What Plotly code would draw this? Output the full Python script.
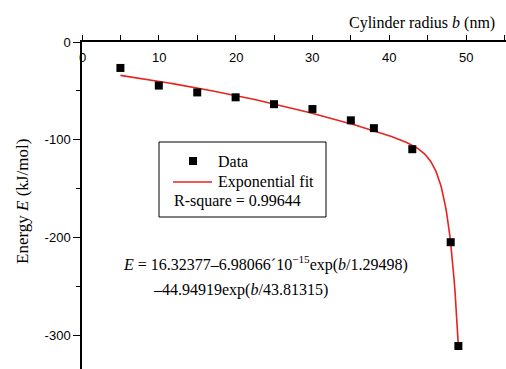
import numpy as np
import plotly.graph_objects as go

# ---- data ----
radius_b = [5, 10, 15, 20, 25, 30, 35, 38, 43, 48, 49]
energy_E = [-26.5, -44.5, -51.5, -56.5, -63.5, -68.5, -80.0, -88.0, -109.5, -204.5, -310.5]

# exponential fit parameters printed on the chart
fit_y0 = 16.32377
fit_A1 = 6.98066e-15
fit_t1 = 1.29498
fit_A2 = 44.94919
fit_t2 = 43.81315
fit_b = np.linspace(5, 49, 400)
fit_E = fit_y0 - fit_A1 * np.exp(fit_b / fit_t1) - fit_A2 * np.exp(fit_b / fit_t2)

x_ticks = [0, 10, 20, 30, 40, 50]
x_ticktext = ["0", "10", "20", "30", "40", "50"]
y_ticks = [0, -100, -200, -300]
y_ticktext = ["0", "-100", "-200", "-300"]

W, H = 506, 369
L, T = 82, 42
PW, PH = W - L, H - T

def px(x):
    return (x - L) / PW

def py(y):
    return (H - y) / PH

SERIF = "Liberation Serif, Times New Roman, serif"
SANS = "Liberation Sans, Arial, sans-serif"
RED = "#e8231f"

fig = go.Figure()
fig.add_trace(go.Scatter(x=fit_b, y=fit_E, mode="lines",
                         line=dict(color=RED, width=1.6), showlegend=False, hoverinfo="skip"))
fig.add_trace(go.Scatter(x=radius_b, y=energy_E, mode="markers",
                         marker=dict(symbol="square", size=8, color="black"), showlegend=False))

fig.update_layout(
    width=W, height=H,
    margin=dict(l=L, r=0, t=T, b=0, pad=0),
    paper_bgcolor="white", plot_bgcolor="white",
    showlegend=False,
    xaxis=dict(
        side="top", range=[0, 55.2], tickvals=x_ticks, showticklabels=False,
        ticks="outside", ticklen=5, tickwidth=1, tickcolor="black",
        showline=True, linecolor="black", linewidth=1.5,
        showgrid=False, zeroline=False,
        minor=dict(dtick=5, tick0=0, ticks="outside", ticklen=5, tickcolor="black", showgrid=False),
    ),
    yaxis=dict(
        range=[-334, 0], tickvals=y_ticks, ticktext=y_ticktext,
        ticks="outside", ticklen=7, tickwidth=1, tickcolor="black",
        showline=True, linecolor="black", linewidth=1.5,
        showgrid=False, zeroline=False,
        tickfont=dict(family=SANS, size=13, color="black"),
        minor=dict(dtick=50, tick0=0, ticks="outside", ticklen=4, tickcolor="black", showgrid=False),
    ),
)

# x tick labels drawn just below the top axis line (inside the plot), as in the reference
for xv, xt in zip(x_ticks, x_ticktext):
    fig.add_annotation(text=xt, xref="x", yref="paper", x=xv, y=py(58),
                       xanchor="center", yanchor="middle", showarrow=False,
                       font=dict(family=SANS, size=13, color="black"))

shapes = [
    dict(type="rect", xref="paper", yref="paper", x0=px(159), x1=px(326), y0=py(217), y1=py(142),
         line=dict(color="black", width=1), fillcolor="rgba(0,0,0,0)"),
    dict(type="rect", xref="paper", yref="paper", x0=px(189), x1=px(197), y0=py(165), y1=py(157),
         line=dict(color="black", width=0), fillcolor="black"),
    dict(type="line", xref="paper", yref="paper", x0=px(173), x1=px(212), y0=py(182), y1=py(182),
         line=dict(color=RED, width=1.6)),
]
fig.update_layout(shapes=shapes)

def ann(text, x, y, size=16, xanchor="left", angle=0):
    fig.add_annotation(text=text, xref="paper", yref="paper", x=px(x), y=py(y),
                       xanchor=xanchor, yanchor="middle", showarrow=False, textangle=angle,
                       font=dict(family=SERIF, size=size, color="black"))

ann("Data", 216, 161)
ann("Exponential fit", 216, 182)
ann("R-square = 0.99644", 172, 201)
ann("<i>E</i> = 16.32377–6.98066´10<sup>−15</sup>exp(<i>b</i>/1.29498)", 121, 263)
ann("–44.94919exp(<i>b</i>/43.81315)", 151, 290)
ann("Cylinder radius <i>b</i> (nm)", 497, 23, size=16, xanchor="right")
ann("Energy <i>E</i> (kJ/mol)", 22, 202, size=17, xanchor="center", angle=-90)

fig.write_html("out.html")
